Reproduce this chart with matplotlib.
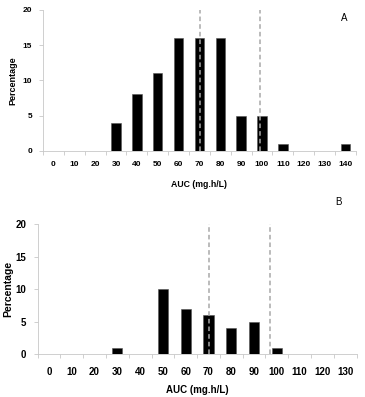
import matplotlib
matplotlib.use('Agg')
import matplotlib.pyplot as plt
import numpy as np

plt.rcParams['font.family'] = ['Liberation Sans', 'DejaVu Sans']

# Panel A
labels_a = ['0', '10', '20', '30', '40', '50', '60', '70', '80', '90', '100',
            '110', '120', '130', '140']
values_a = [0, 0, 0, 4, 8, 11, 16, 16, 16, 5, 5, 1, 0, 0, 1]
vlines_a = [7.02, 9.9]   # positions in category index units

# Panel B
labels_b = ['0', '10', '20', '30', '40', '50', '60', '70', '80', '90', '100',
            '110', '120', '130']
values_b = [0, 0, 0, 1, 0, 10, 7, 6, 4, 5, 1, 0, 0, 0]
vlines_b = [7.03, 9.72]

AXIS_GREY = '#c8c8c8'
DASH_GREY = '#a8a8a8'


def draw_panel(ax, labels, values, vlines, tag, tag_xy, fs, xpad, ylabfs, ylabpad):
    n = len(labels)
    x = np.arange(n)
    ax.bar(x, values, width=0.45, color='black', edgecolor='#555555',
           linewidth=0.4, zorder=2)
    for v in vlines:
        ax.plot([v, v], [0, 20], color=DASH_GREY, linewidth=1.1,
                linestyle=(0, (3, 2)), zorder=3)

    ax.set_xlim(-0.5, n - 0.5)
    ax.set_ylim(0, 20)
    ax.set_yticks([0, 5, 10, 15, 20])
    ax.set_xticks(x)
    ax.set_xticklabels(labels)
    ax.set_xticks(np.arange(n + 1) - 0.5, minor=True)

    ax.tick_params(axis='x', which='major', length=0, pad=xpad,
                   labelsize=fs)
    ax.tick_params(axis='x', which='minor', length=3, color=AXIS_GREY,
                   width=0.6)
    ax.tick_params(axis='y', length=3, color=AXIS_GREY, width=0.6,
                   labelsize=fs, pad=5)
    for lab in ax.get_xticklabels() + ax.get_yticklabels():
        lab.set_fontweight('bold')

    for s in ['top', 'right']:
        ax.spines[s].set_visible(False)
    for s in ['left', 'bottom']:
        ax.spines[s].set_color(AXIS_GREY)
        ax.spines[s].set_linewidth(0.6)

    ax.set_ylabel('Percentage', fontsize=ylabfs, fontweight='bold',
                  labelpad=ylabpad)
    ax.text(tag_xy[0], tag_xy[1], tag, transform=ax.figure.transFigure,
            fontsize=7, ha='center', va='center')


fig = plt.figure(figsize=(3.65, 3.97), dpi=100)

ax_a = fig.add_axes([0.118, 0.620, 0.857, 0.355])
draw_panel(ax_a, labels_a, values_a, vlines_a, 'A', (344 / 365, 1 - 18 / 397),
           fs=6, xpad=7, ylabfs=6.5, ylabpad=4)
ax_a.set_xlabel('AUC (mg.h/L)', fontsize=6.3, fontweight='bold', labelpad=9)

ax_b = fig.add_axes([0.103, 0.1076, 0.874, 0.3274])
draw_panel(ax_b, labels_b, values_b, vlines_b, 'B', (338 / 365, 1 - 202 / 397),
           fs=7, xpad=9, ylabfs=7.5, ylabpad=1.5)
ax_b.set_xlabel('AUC (mg.h/L)', fontsize=7, fontweight='bold', labelpad=6)

fig.savefig('out.png', dpi=100)
